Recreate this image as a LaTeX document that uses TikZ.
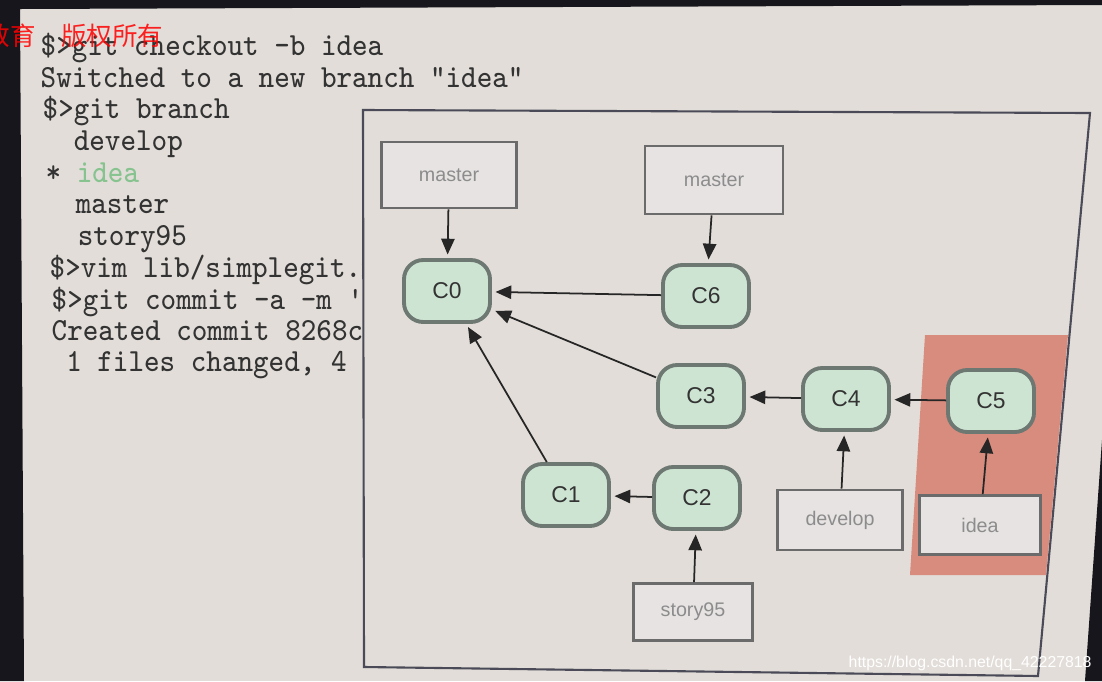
\documentclass[tikz,border=0pt]{standalone}
\usepackage{fontspec}
\usepackage{graphicx}
\usetikzlibrary{arrows.meta}
\newfontfamily\labelfont{Liberation Sans}
\newfontfamily\cjkfont{Noto Sans CJK SC}
\definecolor{screenbg}{HTML}{E2DDD8}
\definecolor{bezel}{HTML}{16161C}
\definecolor{termtext}{HTML}{333333}
\definecolor{ideagreen}{HTML}{86C38F}
\definecolor{framecol}{HTML}{4A4A58}
\definecolor{hilite}{HTML}{D88C7E}
\definecolor{commitfill}{HTML}{CDE4D2}
\definecolor{commitline}{HTML}{6E7872}
\definecolor{committext}{HTML}{333333}
\definecolor{boxfill}{HTML}{E7E3E3}
\definecolor{boxline}{HTML}{6B6B6B}
\definecolor{boxtext}{HTML}{8C8C8C}
\newcommand{\tline}[1]{\scalebox{1}[1.1]{#1}}

\begin{document}
\begin{tikzpicture}[x=0.01cm,y=-0.01cm,
  commit/.style={draw=commitline,fill=commitfill,line width=1.1pt,rounded corners=5.5pt,
    minimum width=0.86cm,minimum height=0.62cm,text=committext,
    font=\labelfont\fontsize{6.5}{7}\selectfont},
  branchbox/.style={draw=boxline,fill=boxfill,line width=0.8pt,text=boxtext,
    font=\labelfont\fontsize{5.6}{6}\selectfont},
  term/.style={anchor=base west,inner sep=0pt,text=termtext,
    font=\ttfamily\fontsize{8.34}{9}\selectfont},
  ptr/.style={-{Triangle[length=4.5pt,width=3.8pt]},line width=0.5pt,black!85,shorten >=1pt}]
\useasboundingbox (0,0) rectangle (1102,681);
% screen and bezel
\fill[screenbg] (0,0) rectangle (1102,681);
\fill[bezel] (0,0) -- (1102,0) -- (1102,5) -- (20,9) -- (24,681) -- (0,681) -- cycle;
\fill[bezel] (1102,440) -- (1102,681) -- (1085,681) -- cycle;
% terminal
\node[term] (l0) at (40,55) {\tline{\$>git checkout -b idea}};
\node[term] (l1) at (40,87) {\tline{Switched to a new branch "idea"}};
\node[term] (l2) at (42,118) {\tline{\$>git branch}};
\node[term] (l3) at (42,150) {\tline{\ \ develop}};
\node[term] (l4) at (45,182) {\tline{* \textcolor{ideagreen}{idea}}};
\node[term] (l5) at (44,213) {\tline{\ \ master}};
\node[term] (l6) at (46,245) {\tline{\ \ story95}};
\node[term] (l7) at (49,277) {\tline{\$>vim lib/simplegit.r}};
\node[term] (l8) at (51,309) {\tline{\$>git commit -a -m 's}};
\node[term] (l9) at (51,340) {\tline{Created commit 8268c1}};
\node[term] (l10) at (50,371) {\tline{\ 1 files changed, 4 i}};
% diagram frame
\filldraw[fill=screenbg,draw=framecol,line width=0.6pt] (363,110) -- (1090,113) -- (1038,676) -- (364,667) -- cycle;
\fill[hilite] (925,335) -- (1068,335) -- (1046,575) -- (910,575) -- cycle;
% commits
\node[commit] (c0) at (447,291) {C0};
\node[commit] (c6) at (706,296) {C6};
\node[commit] (c3) at (701,396) {C3};
\node[commit] (c4) at (846,399) {C4};
\node[commit] (c5) at (991,401) {C5};
\node[commit] (c1) at (566,495) {C1};
\node[commit] (c2) at (697,498) {C2};
% branches
\node[branchbox,minimum width=1.35cm,minimum height=0.66cm] (mastera) at (449,175) {master};
\node[branchbox,minimum width=1.38cm,minimum height=0.68cm] (masterb) at (714,180) {master};
\node[branchbox,minimum width=1.25cm,minimum height=0.60cm] (develop) at (840,520) {develop};
\node[branchbox,minimum width=1.21cm,minimum height=0.59cm] (idea) at (980,525) {idea};
\node[branchbox,minimum width=1.19cm,minimum height=0.57cm] (story) at (693,612) {story95};
% pointers
\draw[ptr] (mastera) -- (c0);
\draw[ptr] (masterb) -- (c6);
\draw[ptr] (c6) -- (c0);
\draw[ptr] (c3) -- (c0);
\draw[ptr] (c1) -- (c0);
\draw[ptr] (c4) -- (c3);
\draw[ptr] (c5) -- (c4);
\draw[ptr] (c2) -- (c1);
\draw[ptr] (develop) -- (c4);
\draw[ptr] (idea) -- (c5);
\draw[ptr] (story) -- (c2);
% watermarks
\node[anchor=west,inner sep=0pt,text=red,opacity=0.85,font=\cjkfont\fontsize{7.25}{8}\selectfont] (wm) at (-16,36) {教育　版权所有};
\node[anchor=base west,inner sep=0pt,text=white,font=\labelfont\fontsize{4.5}{5}\selectfont] (url) at (848,667) {https://blog.csdn.net/qq\_42227818};
\end{tikzpicture}
\end{document}
